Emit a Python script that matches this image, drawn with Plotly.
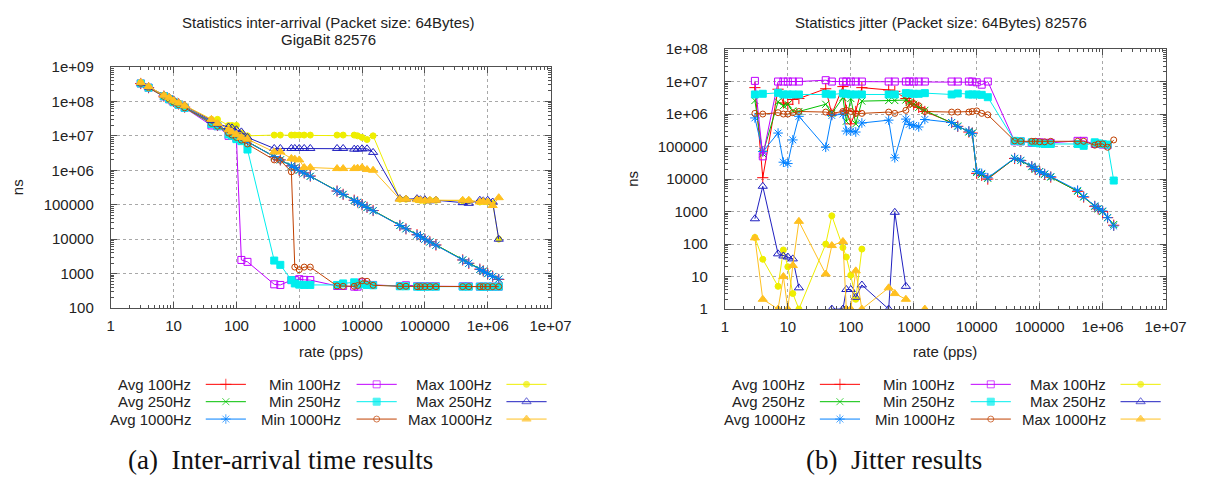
import plotly.graph_objects as go

W, H = 1215, 484

# ---------------- data ----------------
rates = [3, 4, 7, 8.5, 10, 12, 15,
         40, 50, 75, 85, 100, 120, 150,
         400, 500, 750, 850, 1000, 1200, 1500,
         4000, 5000, 7500, 8500, 10000, 12000, 15000,
         40000, 50000, 75000, 85000, 100000, 120000, 150000,
         400000, 500000, 750000, 850000, 1000000, 1200000, 1500000]

series_names = ["Avg 100Hz", "Avg 250Hz", "Avg 1000Hz",
                "Min 100Hz", "Min 250Hz", "Min 1000Hz",
                "Max 100Hz", "Max 250Hz", "Max 1000Hz"]

# inter-arrival (ns)
ia_avg_100 = [3.3e8, 2.5e8, 1.42e8, 1.17e8, 1.0e8, 8.4e7, 6.8e7,
              2.6e7, 2.0e7, 1.35e7, 1.2e7, 1.0e7, 8.4e6, 6.8e6,
              2.5e6, 2.0e6, 1.35e6, 1.2e6, 1.0e6, 8.4e5, 6.8e5,
              2.5e5, 2.0e5, 1.35e5, 1.2e5, 1.0e5, 8.4e4, 6.8e4,
              2.5e4, 2.0e4, 1.35e4, 1.2e4, 1.0e4, 8.4e3, 6.8e3,
              2.5e3, 2.0e3, 1.35e3, 1.2e3, 1.0e3, 840, 680]
ia_avg_250 = [3.3e8, 2.5e8, 1.43e8, 1.18e8, 1.0e8, 8.3e7, 6.7e7,
              2.5e7, 2.0e7, 1.33e7, 1.18e7, 1.0e7, 8.3e6, 6.7e6,
              2.5e6, 2.0e6, 1.33e6, 1.18e6, 1.0e6, 8.3e5, 6.7e5,
              2.5e5, 2.0e5, 1.33e5, 1.18e5, 1.0e5, 8.3e4, 6.7e4,
              2.5e4, 2.0e4, 1.33e4, 1.18e4, 1.0e4, 8.3e3, 6.7e3,
              2.5e3, 2.0e3, 1.33e3, 1.18e3, 1.0e3, 830, 690]
ia_avg_1000 = [3.3e8, 2.5e8, 1.43e8, 1.18e8, 1.0e8, 8.3e7, 6.7e7,
               2.5e7, 2.0e7, 1.33e7, 1.18e7, 1.0e7, 8.3e6, 6.7e6,
               2.5e6, 2.0e6, 1.33e6, 1.18e6, 1.0e6, 8.3e5, 6.7e5,
               2.5e5, 2.0e5, 1.33e5, 1.18e5, 1.0e5, 8.3e4, 6.7e4,
               2.5e4, 2.0e4, 1.33e4, 1.18e4, 1.0e4, 8.3e3, 6.7e3,
               2.5e3, 2.0e3, 1.33e3, 1.18e3, 1.0e3, 830, 700]
ia_min_100 = [3.3e8, 2.5e8, 1.4e8, 1.15e8, 9.5e7, 8e7, 6.5e7,
              2e7, 1.9e7, 1e7, 1e7, 8.5e6, 2500, 2200,
              490, 470, 650, 650, 690, 660, 650,
              440, 440, 420, 420, 560, 480, 470,
              440, 460, 430, 430, 430, 430, 430,
              430, 430, 420, 420, 420, 420, 420]
ia_min_250 = [3.3e8, 2.5e8, 1.4e8, 1.15e8, 9.5e7, 8e7, 6.5e7,
              2.2e7, 1.9e7, 1.1e7, 1e7, 8e6, 7e6, 4e6,
              2400, 1800, 650, 520, 480, 470, 470,
              470, 520, 560, 480, 490, 470, 460,
              430, 430, 420, 420, 420, 420, 420,
              420, 420, 420, 420, 420, 420, 420]
ia_min_1000 = [3.3e8, 2.5e8, 1.4e8, 1.15e8, 9.5e7, 8e7, 6.5e7,
               2.3e7, 1.9e7, 1.2e7, 1.05e7, 9e6, 7.5e6, 5.8e6,
               2e6, 1.95e6, 9e5, 1550, 1300, 1550, 1550,
               440, 430, 430, 450, 620, 600, 460,
               430, 430, 420, 420, 420, 420, 420,
               420, 420, 420, 420, 420, 420, 420]
ia_max_100 = [3.5e8, 2.6e8, 1.5e8, 1.25e8, 1.05e8, 9e7, 7.5e7,
              3e7, 3e7, 2e7, 2e7, 2e7, 1.2e7, 1e7,
              1.05e7, 1.05e7, 1.05e7, 1.05e7, 1.05e7, 1.05e7, 1.05e7,
              1.05e7, 1.05e7, 1.05e7, 1.0e7, 9e6, 7.8e6, 1.0e7,
              1.45e5, 1.45e5, 1.4e5, 1.35e5, 1.3e5, 1.35e5, 1.35e5,
              1.3e5, 1.3e5, 1.2e5, 1.25e5, 1.2e5, 1.1e5, 1e4]
ia_max_250 = [3.4e8, 2.6e8, 1.5e8, 1.3e8, 1.1e8, 9e7, 7.5e7,
              2.8e7, 2.2e7, 1.8e7, 1.7e7, 1.5e7, 1.3e7, 9e6,
              4.3e6, 4.3e6, 4.3e6, 4.3e6, 4.3e6, 4.3e6, 4.3e6,
              4.3e6, 4.3e6, 4.1e6, 4.1e6, 4.2e6, 4.2e6, 3.3e6,
              1.5e5, 1.45e5, 1.5e5, 1.4e5, 1.4e5, 1.3e5, 1.35e5,
              1.15e5, 1.1e5, 1.35e5, 1.3e5, 1.35e5, 1.2e5, 1e4]
ia_max_1000 = [3.5e8, 2.7e8, 1.5e8, 1.3e8, 1.05e8, 9e7, 7.5e7,
               3e7, 2.3e7, 1.5e7, 1.3e7, 1.1e7, 9e6, 8e6,
               3.4e6, 3.4e6, 2.2e6, 2.1e6, 2e6, 1.2e6, 1.2e6,
               1.12e6, 1.12e6, 1.12e6, 1.15e6, 1.2e6, 1.05e6, 1e6,
               1.45e5, 1.45e5, 1.4e5, 1.35e5, 1.3e5, 1.35e5, 1.35e5,
               1.35e5, 1.35e5, 1.2e5, 1.25e5, 1.2e5, 9.5e4, 1.6e5]

# jitter (ns)
j_avg_100 = [6.5e6, 1.1e4, 5.8e6, 2.2e6, 2e6, 2.8e6, 3e6,
             6e6, 1e6, 7e6, 1.3e6, 5e5, 1.2e6, 6.5e6,
             5.5e6, 5e6, 3e6, 2.5e6, 2e6, 1.6e6, 1.2e6,
             5.5e5, 4.2e5, 2.8e5, 2.6e5, 1.5e4, 1.3e4, 1e4,
             4.3e4, 3.7e4, 2.4e4, 2e4, 1.7e4, 1.4e4, 1.15e4,
             4.2e3, 2.8e3, 1.45e3, 1.2e3, 1e3, 650, 380]
j_avg_250 = [2.6e6, 6e4, 2.4e6, 1.8e6, 2e6, 1.25e6, 1.2e6,
             2e6, 1.05e6, 3.2e6, 6e5, 3e6, 5e5, 2.5e6,
             2.6e6, 2.6e6, 2.7e6, 2.3e6, 2e6, 1.6e6, 1.3e6,
             5.5e5, 4.3e5, 2.8e5, 2.6e5, 1.6e4, 1.4e4, 1.05e4,
             4.3e4, 3.7e4, 2.4e4, 2e4, 1.7e4, 1.4e4, 1.15e4,
             4.2e3, 2.8e3, 1.45e3, 1.2e3, 1e3, 650, 400]
j_avg_1000 = [7.6e5, 7e4, 2.6e5, 3.3e4, 3e4, 1.6e5, 8.5e5,
              9.5e4, 9e5, 1e6, 3e5, 3e5, 2.8e5, 5.3e5,
              6.5e5, 4.5e4, 7e5, 4.8e5, 4.5e5, 4e5, 6.8e5,
              5.5e5, 4.1e5, 3e5, 2.5e5, 1.7e4, 1.5e4, 1.1e4,
              4.4e4, 3.8e4, 2.5e4, 2.1e4, 1.7e4, 1.45e4, 1.2e4,
              4.5e3, 2.9e3, 1.5e3, 1.25e3, 1.05e3, 650, 360]
j_min_100 = [1.05e7, 5e4, 1e7, 1e7, 1e7, 1e7, 1e7,
             1.1e7, 1e7, 1e7, 1e7, 1e7, 1e7, 1e7,
             1e7, 1e7, 1e7, 1e7, 1e7, 1e7, 1e7,
             1e7, 1e7, 1e7, 1e7, 9.5e6, 8e6, 1e7,
             1.45e5, 1.45e5, 1.3e5, 1.35e5, 1.35e5, 1.3e5, 1.3e5,
             1.5e5, 1.5e5, 1.2e5, 1.2e5, 1.15e5, 1.1e5, None]
j_min_250 = [4e6, 4.2e6, 4.5e6, 4e6, 4e6, 4e6, 4e6,
             4.2e6, 4e6, 4.3e6, 4.2e6, 4e6, 4e6, 4e6,
             4e6, 4e6, 4.4e6, 4.3e6, 4.2e6, 4.2e6, 4.4e6,
             4e6, 4.3e6, 4e6, 4e6, 4e6, 3.9e6, 3.3e6,
             1.5e5, 1.45e5, 1.35e5, 1.3e5, 1.25e5, 1.2e5, 1.2e5,
             1.2e5, 1.05e5, 1.35e5, 1.25e5, 1.2e5, 1.15e5, 9e3]
j_min_1000 = [1.05e6, 1e6, 1.1e6, 1e6, 1e6, 1.1e6, 1.2e6,
              1.15e6, 1.05e6, 1.2e6, 1.3e6, 1.2e6, 1.05e6, 1.05e6,
              1.15e6, 1.05e6, 1.3e6, 2e6, 2.1e6, 1.8e6, 1.2e6,
              1.15e6, 1.15e6, 1.15e6, 1.2e6, 1.25e6, 1.05e6, 9.5e5,
              1.5e5, 1.45e5, 1.45e5, 1.45e5, 1.4e5, 1.4e5, 1.45e5,
              1.45e5, 1.45e5, 1.1e5, 1.2e5, 1.2e5, 9.5e4, 1.6e5]
j_max_100 = [160, 34, 5, 66, 20, 3, 1,
             100, 740, 78, 40, 11, 2, 70,
             None, None, None, None, None, None, None,
             None, None, None, None, None, None, None,
             None, None, None, None, None, None, None,
             None, None, None, None, None, None, None]
j_max_250 = [600, 6000, 50, 43, 40, 35, 4.5,
             None, 1, 1, 4, 4, 2.3, 5.5,
             1, 950, 5, None, None, None, None,
             None, None, None, None, None, None, None,
             None, None, None, None, None, None, None,
             None, None, None, None, None, None, None]
j_max_1000 = [155, 2, 1, 10, 1, 22, 500,
              12, 90, 120, 1, 1, 15, 1,
              4.5, 3, 2, None, None, None, 1,
              None, None, None, None, None, None, None,
              None, None, None, None, None, None, None,
              None, None, None, None, None, None, None]

x_tick_vals = [1, 10, 100, 1000, 10000, 100000, 1000000, 10000000]
x_tick_text = ["1", "10", "100", "1000", "10000", "100000", "1e+06", "1e+07"]
ia_tick_vals = [100, 1000, 10000, 100000, 1e6, 1e7, 1e8, 1e9]
ia_tick_text = ["100", "1000", "10000", "100000", "1e+06", "1e+07", "1e+08", "1e+09"]
j_tick_vals = [1, 10, 100, 1000, 10000, 100000, 1e6, 1e7, 1e8]
j_tick_text = ["1", "10", "100", "1000", "10000", "100000", "1e+06", "1e+07", "1e+08"]

# ---------------- styles ----------------
colors = ["#ff0000", "#00c000", "#0080ff", "#c000ff", "#00eeee",
          "#c04000", "#eeee00", "#2020c0", "#ffc020"]
symbols = ["cross-thin-open", "x-thin-open", "asterisk-open", "square-open",
           "square", "circle-open", "circle", "triangle-up-open", "triangle-up"]
sizes = [8, 7, 8, 7, 7, 6, 6, 8, 8]

FONT = "Liberation Sans"
TXT = "#222222"
FRAME = "#505050"

fig = go.Figure()

def add_series(values_list, xa, ya):
    for i, vals in enumerate(values_list):
        fig.add_trace(go.Scatter(
            x=rates, y=vals, mode="lines+markers", xaxis=xa, yaxis=ya,
            line=dict(color=colors[i], width=1),
            marker=dict(symbol=symbols[i], size=sizes[i], color=colors[i],
                        line=dict(color=colors[i], width=1)),
            showlegend=False, hoverinfo="skip", connectgaps=False))

add_series([ia_avg_100, ia_avg_250, ia_avg_1000, ia_min_100, ia_min_250,
            ia_min_1000, ia_max_100, ia_max_250, ia_max_1000], "x", "y")
add_series([j_avg_100, j_avg_250, j_avg_1000, j_min_100, j_min_250,
            j_min_1000, j_max_100, j_max_250, j_max_1000], "x2", "y2")

# ---------------- layout geometry (pixels) ----------------
L_LEFT, L_RIGHT, L_TOP, L_BOT = 109, 558, 60, 310
R_LEFT, R_RIGHT, R_TOP, R_BOT = 736, 1186, 41.5, 311

def px(x):
    return x / W

def py(y):
    return 1 - y / H

minor_x = [m * 10 ** e for e in range(0, 7) for m in range(2, 10)]

def xaxis_cfg(dom, anchor):
    return dict(type="log", range=[0, 7], domain=dom, anchor=anchor,
                tickmode="array", tickvals=x_tick_vals, ticktext=x_tick_text,
                ticks="inside", ticklen=6, tickcolor=FRAME, tickwidth=1,
                showline=True, linecolor=FRAME, linewidth=1, mirror="allticks",
                showgrid=True, gridcolor="#a8a8a8", griddash="dot", gridwidth=1,
                zeroline=False, ticklabelstandoff=4,
                tickfont=dict(family=FONT, size=15, color=TXT),
                minor=dict(ticks="inside", ticklen=3, tickcolor=FRAME,
                           tickmode="array", tickvals=minor_x, showgrid=False))

def yaxis_cfg(dom, anchor, rng, tv, tt):
    mv = [m * 10 ** e for e in range(rng[0], rng[1]) for m in range(2, 10)]
    return dict(type="log", range=rng, domain=dom, anchor=anchor,
                tickmode="array", tickvals=tv, ticktext=tt,
                ticks="inside", ticklen=6, tickcolor=FRAME, tickwidth=1,
                showline=True, linecolor=FRAME, linewidth=1, mirror="allticks",
                showgrid=True, gridcolor="#a8a8a8", griddash="dot", gridwidth=1,
                zeroline=False, ticklabelstandoff=13,
                tickfont=dict(family=FONT, size=15, color=TXT),
                minor=dict(ticks="inside", ticklen=3, tickcolor=FRAME,
                           tickmode="array", tickvals=mv, showgrid=False))

annotations = []

def text(x, y, s, size=15, xanchor="center", family=FONT, angle=0, color=TXT):
    annotations.append(dict(x=px(x), y=py(y), xref="paper", yref="paper",
                            text=s, showarrow=False, xanchor=xanchor,
                            yanchor="middle", textangle=angle,
                            font=dict(family=family, size=size, color=color)))

def legend_block(left, prefix_x, prefix_y):
    rows = [389, 407, 425]
    text_right = [84, 237, 391]
    line_start = [97, 251, 404]
    for k, name in enumerate(series_names):
        col, row = k // 3, k % 3
        y = rows[row]
        text(left + text_right[col], y, name, xanchor="right")
        x0 = left + line_start[col]
        x1 = x0 + 41
        fig.add_trace(go.Scatter(
            x=[x0, (x0 + x1) / 2, x1], y=[y, y, y], mode="lines+markers",
            xaxis=prefix_x, yaxis=prefix_y,
            line=dict(color=colors[k], width=1),
            marker=dict(symbol=symbols[k], size=[0, sizes[k], 0], color=colors[k],
                        line=dict(color=colors[k], width=1)),
            showlegend=False, hoverinfo="skip", cliponaxis=False))

legend_block(L_LEFT, "x3", "y3")
legend_block(R_LEFT, "x3", "y3")

lc = (L_LEFT + L_RIGHT) / 2
rc = (R_LEFT + R_RIGHT) / 2
text(lc - 2, 14, "Statistics inter-arrival (Packet size: 64Bytes)")
text(lc - 2, 32, "GigaBit 82576")
text(rc - 4, 14, "Statistics jitter (Packet size: 64Bytes) 82576")
text(lc, 355, "rate (pps)")
text(rc, 355, "rate (pps)")
text(14, (L_TOP + L_BOT) / 2, "ns", angle=-90)
text(641, (R_TOP + R_BOT) / 2, "ns", angle=-90)
text(L_LEFT + 173, 467, "(a)  Inter-arrival time results", size=27,
     family="Liberation Serif", color="#111111")
text(R_LEFT + 173, 467, "(b)  Jitter results", size=27,
     family="Liberation Serif", color="#111111")

fig.update_layout(
    width=W, height=H, margin=dict(l=0, r=0, t=0, b=0),
    paper_bgcolor="white", plot_bgcolor="rgba(0,0,0,0)", showlegend=False,
    xaxis=xaxis_cfg([px(L_LEFT), px(L_RIGHT)], "y"),
    yaxis=yaxis_cfg([py(L_BOT), py(L_TOP)], "x", [2, 9], ia_tick_vals, ia_tick_text),
    xaxis2=xaxis_cfg([px(R_LEFT), px(R_RIGHT)], "y2"),
    yaxis2=yaxis_cfg([py(R_BOT), py(R_TOP)], "x2", [0, 8], j_tick_vals, j_tick_text),
    xaxis3=dict(domain=[0, 1], range=[0, W], visible=False, anchor="y3", fixedrange=True),
    yaxis3=dict(domain=[0, 1], range=[H, 0], visible=False, anchor="x3", fixedrange=True),
    annotations=annotations,
)

fig.write_html("out.html")
